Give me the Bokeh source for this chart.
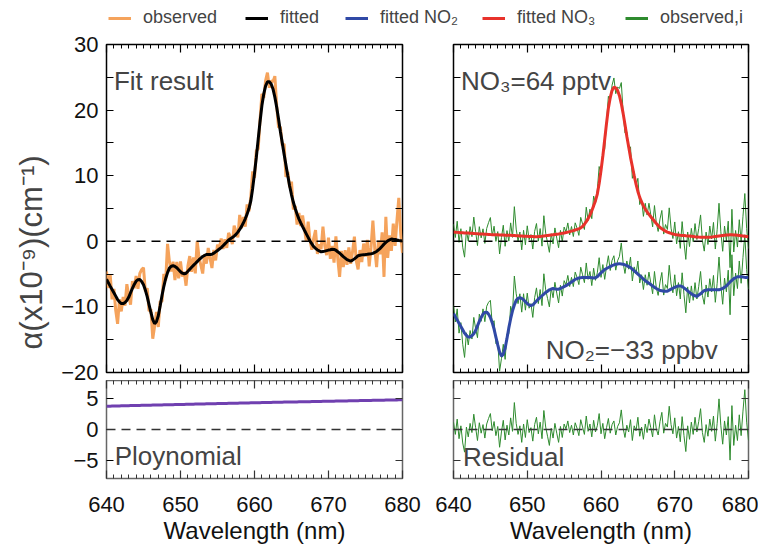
import numpy as np
from bokeh.plotting import figure
from bokeh.models import (Range1d, LinearAxis, FixedTicker, Span, Label,
                          Legend, LegendItem)
from bokeh.layouts import row, column
from bokeh.embed import file_html
from bokeh.resources import INLINE

# ---------------- data (0.25 nm grid) ----------------
wavelength = np.linspace(640.0, 680.0, 161)

no3_fit = [
    1.40, 1.38, 1.36, 1.34,   # 640
    1.32, 1.30, 1.28, 1.26,   # 641
    1.25, 1.23, 1.21, 1.19,   # 642
    1.17, 1.15, 1.13, 1.12,   # 643
    1.10, 1.08, 1.06, 1.04,   # 644
    1.02, 1.01, 1.00, 0.99,   # 645
    0.98, 0.97, 0.96, 0.95,   # 646
    0.94, 0.93, 0.92, 0.91,   # 647
    0.90, 0.88, 0.86, 0.84,   # 648
    0.82, 0.80, 0.78, 0.77,   # 649
    0.76, 0.74, 0.73, 0.72,   # 650
    0.71, 0.71, 0.72, 0.74,   # 651
    0.76, 0.80, 0.84, 0.88,   # 652
    0.92, 0.96, 1.00, 1.04,   # 653
    1.08, 1.12, 1.17, 1.22,   # 654
    1.27, 1.33, 1.40, 1.47,   # 655
    1.55, 1.63, 1.72, 1.81,   # 656
    1.90, 2.05, 2.25, 2.60,   # 657
    3.00, 3.45, 4.00, 4.65,   # 658
    5.40, 6.20, 7.20, 8.80,   # 659
    10.80, 13.00, 15.50, 18.00,  # 660
    20.30, 21.90, 23.00, 23.50,  # 661
    23.40, 23.00, 22.20, 21.00,  # 662
    19.50, 17.80, 16.00, 14.40,  # 663
    12.80, 11.40, 10.00, 8.70,   # 664
    7.60, 6.70, 6.00, 5.40,   # 665
    4.90, 4.50, 4.10, 3.75,   # 666
    3.40, 3.05, 2.70, 2.40,   # 667
    2.10, 1.90, 1.70, 1.55,   # 668
    1.40, 1.30, 1.20, 1.12,   # 669
    1.05, 1.00, 0.96, 0.92,   # 670
    0.90, 0.87, 0.84, 0.82,   # 671
    0.80, 0.77, 0.74, 0.70,   # 672
    0.67, 0.64, 0.62, 0.61,   # 673
    0.60, 0.60, 0.61, 0.63,   # 674
    0.65, 0.68, 0.72, 0.76,   # 675
    0.80, 0.84, 0.88, 0.92,   # 676
    0.95, 0.97, 0.98, 0.98,   # 677
    0.97, 0.95, 0.92, 0.89,   # 678
    0.86, 0.82, 0.78, 0.74,   # 679
    0.70,                     # 680
]

no2_fit = [
    -11.0, -11.5, -12.0, -12.5,    # 640
    -13.0, -13.5, -14.0, -14.35,   # 641
    -14.6, -14.6, -14.4, -14.1,    # 642
    -13.6, -12.9, -12.2, -11.6,    # 643
    -11.1, -10.85, -10.8, -11.1,   # 644
    -11.6, -12.4, -13.4, -14.6,    # 645
    -15.8, -16.9, -17.5, -17.2,    # 646
    -16.3, -14.8, -13.2, -11.8,    # 647
    -10.6, -9.7, -9.0, -8.7,       # 648
    -8.6, -8.7, -8.9, -9.2,        # 649
    -9.5, -9.7, -9.8, -9.7,        # 650
    -9.4, -9.1, -8.8, -8.55,       # 651
    -8.3, -8.05, -7.8, -7.6,       # 652
    -7.4, -7.3, -7.2, -7.25,       # 653
    -7.3, -7.3, -7.2, -7.05,       # 654
    -6.9, -6.75, -6.6, -6.4,       # 655
    -6.2, -6.0, -5.8, -5.7,        # 656
    -5.6, -5.55, -5.5, -5.5,       # 657
    -5.5, -5.5, -5.5, -5.55,       # 658
    -5.6, -5.55, -5.4, -5.1,       # 659
    -4.8, -4.55, -4.3, -4.15,      # 660
    -4.0, -3.85, -3.7, -3.6,       # 661
    -3.5, -3.45, -3.4, -3.45,      # 662
    -3.5, -3.6, -3.7, -3.85,       # 663
    -4.0, -4.25, -4.5, -4.75,      # 664
    -5.0, -5.25, -5.5, -5.75,      # 665
    -6.0, -6.2, -6.4, -6.6,        # 666
    -6.8, -7.0, -7.2, -7.35,       # 667
    -7.5, -7.55, -7.6, -7.6,       # 668
    -7.6, -7.45, -7.3, -7.15,      # 669
    -7.0, -6.9, -6.8, -6.8,        # 670
    -6.9, -7.1, -7.3, -7.55,       # 671
    -7.8, -8.0, -8.2, -8.3,        # 672
    -8.4, -8.2, -8.0, -7.75,       # 673
    -7.5, -7.45, -7.4, -7.4,       # 674
    -7.4, -7.4, -7.4, -7.4,        # 675
    -7.4, -7.3, -7.2, -7.0,        # 676
    -6.8, -6.5, -6.2, -5.95,       # 677
    -5.7, -5.55, -5.4, -5.4,       # 678
    -5.4, -5.45, -5.5, -5.5,       # 679
    -5.5,                          # 680
]

polynomial = [
    3.80, 3.81, 3.81, 3.82,  # 640
    3.83, 3.84, 3.84, 3.85,  # 641
    3.86, 3.87, 3.87, 3.88,  # 642
    3.89, 3.90, 3.90, 3.91,  # 643
    3.92, 3.92, 3.93, 3.94,  # 644
    3.95, 3.95, 3.96, 3.97,  # 645
    3.97, 3.98, 3.99, 4.00,  # 646
    4.00, 4.01, 4.02, 4.03,  # 647
    4.03, 4.04, 4.05, 4.06,  # 648
    4.06, 4.07, 4.08, 4.08,  # 649
    4.09, 4.10, 4.10, 4.11,  # 650
    4.12, 4.13, 4.13, 4.14,  # 651
    4.15, 4.15, 4.16, 4.17,  # 652
    4.17, 4.18, 4.19, 4.19,  # 653
    4.20, 4.21, 4.22, 4.22,  # 654
    4.23, 4.24, 4.24, 4.25,  # 655
    4.26, 4.26, 4.27, 4.28,  # 656
    4.28, 4.29, 4.30, 4.30,  # 657
    4.31, 4.32, 4.32, 4.33,  # 658
    4.34, 4.34, 4.35, 4.36,  # 659
    4.36, 4.37, 4.38, 4.38,  # 660
    4.39, 4.40, 4.40, 4.41,  # 661
    4.41, 4.42, 4.43, 4.43,  # 662
    4.44, 4.45, 4.45, 4.46,  # 663
    4.47, 4.47, 4.48, 4.48,  # 664
    4.49, 4.50, 4.50, 4.51,  # 665
    4.52, 4.52, 4.53, 4.53,  # 666
    4.54, 4.55, 4.55, 4.56,  # 667
    4.57, 4.57, 4.58, 4.58,  # 668
    4.59, 4.60, 4.60, 4.61,  # 669
    4.61, 4.62, 4.63, 4.63,  # 670
    4.64, 4.64, 4.65, 4.66,  # 671
    4.66, 4.67, 4.67, 4.68,  # 672
    4.69, 4.69, 4.70, 4.70,  # 673
    4.71, 4.72, 4.72, 4.73,  # 674
    4.73, 4.74, 4.75, 4.75,  # 675
    4.76, 4.76, 4.77, 4.78,  # 676
    4.78, 4.79, 4.79, 4.80,  # 677
    4.80, 4.81, 4.82, 4.82,  # 678
    4.83, 4.83, 4.84, 4.85,  # 679
    4.85,                    # 680
]

residual = [
    1.2, -0.8, 1.7, -1.5,    # 640
    0.6, -2.2, -3.7, 0.4,    # 641
    -1.2, 1.0, -0.5, 2.5,    # 642
    0.3, -1.8, 1.1, -0.6,    # 643
    0.8, -1.4, 0.9, 1.8,     # 644
    2.6, -0.2, 1.3, -1.0,    # 645
    0.5, -2.9, -0.4, 1.5,    # 646
    -1.7, 0.7, -0.9, 1.9,    # 647
    -0.3, 4.4, 1.0, -0.8,    # 648
    0.6, -2.1, 0.9, -1.3,    # 649
    1.6, -0.5, 0.3, -1.9,    # 650
    0.8, 2.0, -0.7, 1.2,     # 651
    -1.5, 3.1, 0.4, -1.1,    # 652
    -2.6, 0.2, -1.4, 1.0,    # 653
    -0.6, -2.1, 0.5, -1.3,   # 654
    0.9, 0.1, 1.4, -0.5,     # 655
    0.7, -0.9, 1.1, 0.2,     # 656
    -1.0, 1.6, 0.4, -0.8,    # 657
    2.2, -0.3, 0.9, -1.2,    # 658
    1.5, -0.4, 0.6, 2.6,     # 659
    -0.7, 1.0, -1.5, 0.3,    # 660
    1.8, -0.6, 0.8, 1.4,     # 661
    -0.9, 0.5, 1.1, 3.2,     # 662
    0.2, -1.3, 0.7, -0.4,    # 663
    1.6, -1.8, 0.6, -0.2,    # 664
    2.0, -1.1, 0.4, -1.6,    # 665
    0.9, -0.5, 1.7, 0.3,     # 666
    -1.2, 2.4, 0.1, -0.9,    # 667
    1.3, 2.8, -0.6, 1.0,     # 668
    0.4, 3.8, 0.8, -0.7,     # 669
    1.9, -1.4, 0.5, -2.0,    # 670
    2.1, -1.0, -3.6, 0.6,    # 671
    -1.6, 1.2, -0.8, 2.0,    # 672
    -0.4, 1.3, 3.4, -0.5,    # 673
    -2.1, 0.8, -1.1, 1.7,    # 674
    -0.3, 2.2, -1.9, 1.0,    # 675
    5.0, 0.6, -2.4, 1.4,     # 676
    -0.9, 2.1, -5.0, 3.9,    # 677
    -2.6, 0.7, -1.8, 2.4,    # 678
    -1.0, 3.0, 6.5, 1.2,     # 679
    -1.8,                    # 680
]

x_ticks = [640, 650, 660, 670, 680]
y_ticks_main = [-20, -10, 0, 10, 20, 30]
y_ticks_small = [-5, 0, 5]
legend_labels = ["observed", "fitted", "fitted NO\u2082", "fitted NO\u2083", "observed,i"]

# derived series (sums of the fitted components)
no3 = np.array(no3_fit)
no2 = np.array(no2_fit)
pol = np.array(polynomial)
res = np.array(residual)
fitted = no3 + no2 + pol
observed = fitted + res
observed_i_no3 = no3 + res
observed_i_no2 = no2 + res

# ---------------- styling ----------------
FONT = "Liberation Sans"
C_OBS = "#F5A35C"
C_FIT = "#000000"
C_NO2 = "#3049A6"
C_NO3 = "#E8322B"
C_OBSI = "#2E8B2E"
C_POLY = "#7040B0"
MINUS = "\u2212"
GRAYF = "#666666"


def make_fig(ymin, ymax, fh, mbl, mbr, mbt, mbb, fw, outline):
    p = figure(frame_width=fw, frame_height=fh,
               x_range=Range1d(640, 680), y_range=Range1d(ymin, ymax),
               x_axis_location=None, y_axis_location=None,
               toolbar_location=None, output_backend="svg",
               min_border_left=mbl, min_border_right=mbr,
               min_border_top=mbt, min_border_bottom=mbb)
    p.grid.grid_line_color = None
    p.outline_line_color = outline
    p.outline_line_width = 1.5
    p.background_fill_color = "white"
    p.border_fill_color = "white"
    return p


def add_axis(p, side, ticker, labels, tin, minor_in=0, overrides=None,
             standoff=8, color="black", title=None):
    ax = LinearAxis(ticker=ticker)
    ax.axis_line_color = None
    ax.major_tick_in = tin
    ax.major_tick_out = 0
    ax.minor_tick_in = minor_in
    ax.minor_tick_out = 0
    ax.major_tick_line_color = color
    ax.minor_tick_line_color = color
    ax.major_tick_line_width = 1.2
    ax.minor_tick_line_width = 1.0
    if labels:
        ax.major_label_text_font = FONT
        ax.major_label_text_font_size = "22px"
        ax.major_label_text_color = "#111111"
        ax.major_label_standoff = standoff
        if overrides:
            ax.major_label_overrides = overrides
    else:
        ax.major_label_text_font_size = "0px"
        ax.major_label_text_color = None
        ax.major_label_standoff = 0
    if title:
        ax.axis_label = title
        ax.axis_label_text_font = FONT
        ax.axis_label_text_font_size = "24px"
        ax.axis_label_text_font_style = "normal"
        ax.axis_label_text_color = "#111111"
        ax.axis_label_standoff = 2
    p.add_layout(ax, side)
    return ax


def xticker():
    return FixedTicker(ticks=x_ticks,
                       minor_ticks=[v for v in range(641, 680) if v % 10])


def yticker_main():
    return FixedTicker(ticks=y_ticks_main, minor_ticks=[-15, -5, 5, 15, 25])


def yticker_small():
    return FixedTicker(ticks=y_ticks_small, minor_ticks=[])


main_over = {v: (MINUS + str(-v) if v < 0 else str(v)) for v in y_ticks_main}
small_over = {v: (MINUS + str(-v) if v < 0 else str(v)) for v in y_ticks_small}

FW_L, FW_R = 296, 295
FH_MAIN, FH_SMALL = 328, 98
YLAB_W = 58
TOTAL_W = 758
LEG_H = 32

# ---- left main ----
pl = make_fig(-20, 30, FH_MAIN, 48, 26, 12, 8, FW_L, "black")
add_axis(pl, "left", yticker_main(), True, 7, 7, main_over)
add_axis(pl, "right", yticker_main(), False, 7, 7)
add_axis(pl, "below", xticker(), False, 8, 4)
add_axis(pl, "above", xticker(), False, 8, 4)
pl.add_layout(Span(location=0, dimension="width", line_color="black",
                   line_dash="9 6", line_width=1.5))
pl.line(wavelength, observed, line_color=C_OBS, line_width=3)
pl.line(wavelength, fitted, line_color=C_FIT, line_width=3)
pl.add_layout(Label(x=641.0, y=24.5, text="Fit result", text_font=FONT,
                    text_font_size="26px", text_baseline="alphabetic"))

# ---- right main ----
pr = make_fig(-20, 30, FH_MAIN, 25, 10, 12, 8, FW_R, "black")
add_axis(pr, "left", yticker_main(), False, 7, 7)
add_axis(pr, "right", yticker_main(), False, 7, 7)
add_axis(pr, "below", xticker(), False, 8, 4)
add_axis(pr, "above", xticker(), False, 8, 4)
pr.add_layout(Span(location=0, dimension="width", line_color="black",
                   line_dash="9 6", line_width=1.5))
pr.line(wavelength, observed_i_no3, line_color=C_OBSI, line_width=1)
pr.line(wavelength, observed_i_no2, line_color=C_OBSI, line_width=1)
pr.line(wavelength, no3, line_color=C_NO3, line_width=3)
pr.line(wavelength, no2, line_color=C_NO2, line_width=3)
pr.add_layout(Label(x=641.0, y=24.5, text="NO\u2083=64 pptv", text_font=FONT,
                    text_font_size="26px", text_baseline="alphabetic"))
pr.add_layout(Label(x=652.5, y=-16.6, text="NO\u2082=" + MINUS + "33 ppbv",
                    text_font=FONT, text_font_size="26px",
                    text_baseline="alphabetic"))

# ---- left bottom ----
bl = make_fig(-8, 8, FH_SMALL, 48, 26, 0, 38, FW_L, GRAYF)
add_axis(bl, "left", yticker_small(), True, 7, 0, small_over)
add_axis(bl, "right", yticker_small(), False, 7, 0, color="#333333")
add_axis(bl, "below", xticker(), True, 8, 4, standoff=18, color="#333333",
         title="Wavelength (nm)")
add_axis(bl, "above", xticker(), False, 8, 4, color="#333333")
bl.add_layout(Span(location=0, dimension="width", line_color="#333333",
                   line_dash="9 6", line_width=1.5))
bl.line(wavelength, pol, line_color=C_POLY, line_width=3)
bl.add_layout(Label(x=641.1, y=-4.4, text="Ploynomial", text_font=FONT,
                    text_font_size="26px", text_baseline="alphabetic"))

# ---- right bottom ----
br = make_fig(-8, 8, FH_SMALL, 25, 10, 0, 38, FW_R, GRAYF)
add_axis(br, "left", yticker_small(), False, 7, 0, color="#333333")
add_axis(br, "right", yticker_small(), False, 7, 0, color="#333333")
add_axis(br, "below", xticker(), True, 8, 4, standoff=18, color="#333333",
         title="Wavelength (nm)")
add_axis(br, "above", xticker(), False, 8, 4, color="#333333")
br.add_layout(Span(location=0, dimension="width", line_color="#333333",
                   line_dash="9 6", line_width=1.5))
br.line(wavelength, res, line_color=C_OBSI, line_width=1)
br.add_layout(Label(x=641.3, y=-4.5, text="Residual", text_font=FONT,
                    text_font_size="26px", text_baseline="alphabetic"))


def blank_fig(w, h, xr, yr):
    f = figure(width=w, height=h, x_range=Range1d(*xr), y_range=Range1d(*yr),
               x_axis_location=None, y_axis_location=None,
               toolbar_location=None, output_backend="svg", min_border=0)
    f.grid.grid_line_color = None
    f.outline_line_color = None
    f.background_fill_color = "white"
    f.border_fill_color = "white"
    return f


# ---- y axis title (spans main + bottom panels) ----
MID_H = 488
ylab = blank_fig(YLAB_W, MID_H, (0, YLAB_W), (0, MID_H))
ylab.add_layout(Label(x=31, y=MID_H - 220, text="\u03b1(x10\u207b\u2079)(cm\u207b\u00b9)",
                      angle=np.pi / 2, text_font=FONT, text_font_size="31px",
                      text_align="center", text_baseline="middle"))

# ---- legend strip ----
lp = blank_fig(TOTAL_W, LEG_H, (0, 1), (0, 1))
colors = [C_OBS, C_FIT, C_NO2, C_NO3, C_OBSI]
legend_series = [observed, fitted, no2, no3, observed_i_no3]
legend_x = [108, 245, 345, 482, 625]
for lab, col, ser, lx in zip(legend_labels, colors, legend_series, legend_x):
    # series lie outside this strip's ranges; only the legend swatch shows
    r = lp.line(wavelength, ser, line_color=col, line_width=3)
    leg = Legend(items=[LegendItem(label=lab, renderers=[r])],
                 orientation="horizontal", location=(lx, 4),
                 padding=0, margin=0, spacing=0, glyph_width=23,
                 glyph_height=18, label_standoff=12, label_height=18,
                 label_text_font=FONT, label_text_font_size="18px",
                 border_line_color=None, background_fill_alpha=0)
    lp.add_layout(leg, "center")

layout = column(lp, row(ylab, column(pl, bl), column(pr, br)))

with open("out.html", "w") as f:
    f.write(file_html(layout, INLINE))
